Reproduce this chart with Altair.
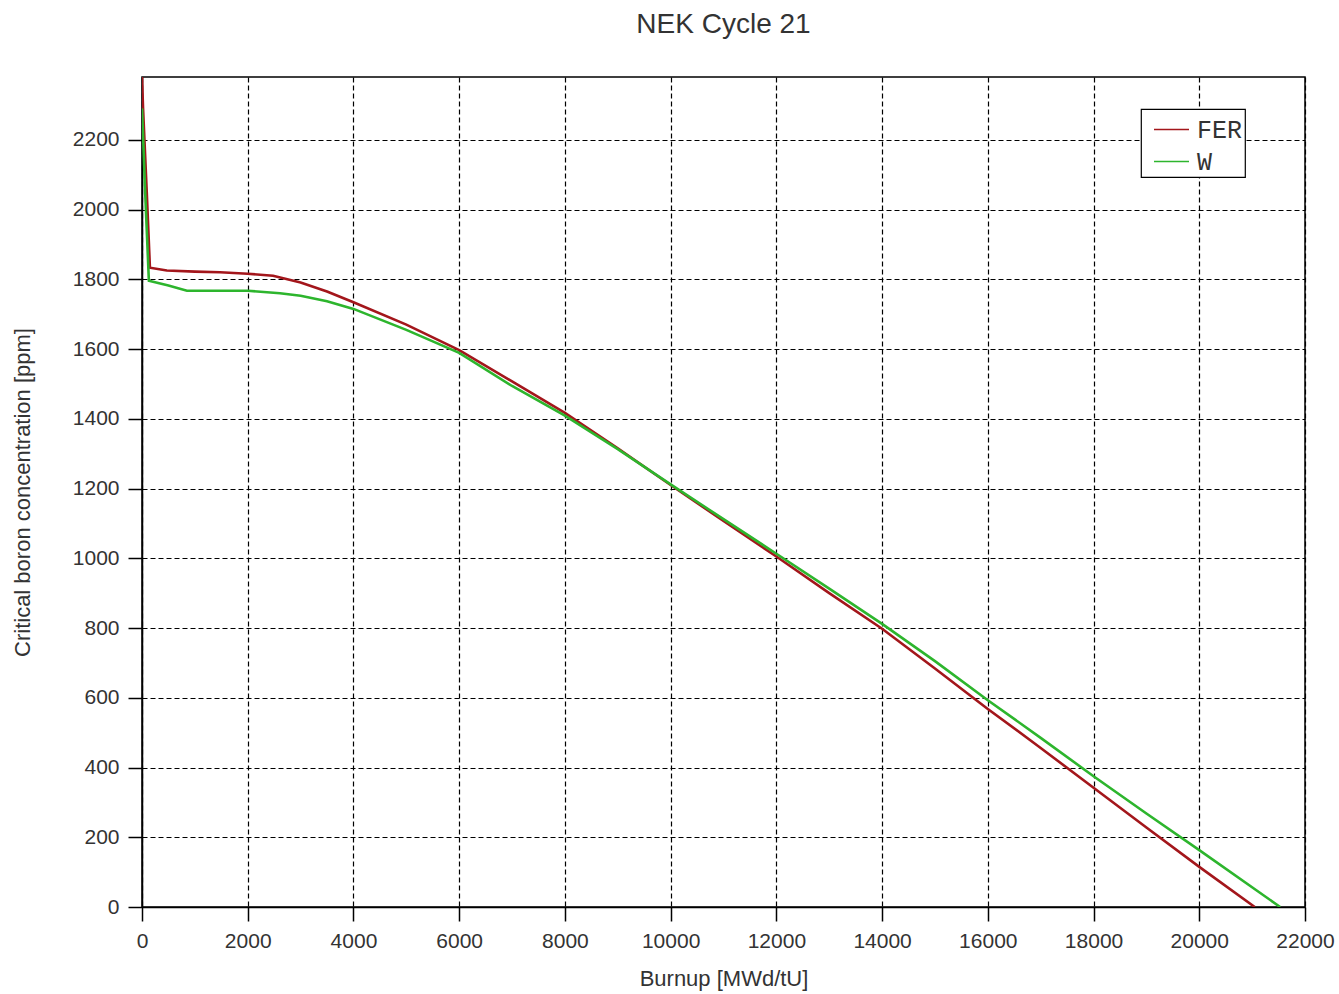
import altair as alt
import pandas as pd

# Burnup [MWd/tU] and critical boron concentration [ppm]
fer_x = [0, 20, 90, 150, 470, 1000, 1475, 2000, 2480, 3000, 3500, 4000, 5000, 6000,
         7000, 8000, 9000, 10000, 11000, 12000, 13000, 14000, 15000, 16000, 17000,
         18000, 19000, 20000, 21050]
fer_y = [2380, 2290, 2050, 1833, 1825, 1822, 1820, 1816, 1810, 1791, 1765, 1734, 1670,
         1597, 1507, 1417, 1315, 1210, 1107, 1005, 900, 798, 684, 568, 456, 342, 228,
         115, 0]

w_x = [0, 60, 130, 500, 850, 2000, 2610, 3000, 3500, 4000, 5000, 6000, 7000, 8000,
       9000, 10000, 11000, 12000, 13000, 14000, 15000, 16000, 17000, 18000, 19000,
       20000, 21530]
w_y = [2290, 2050, 1796, 1782, 1767, 1767, 1760, 1753, 1737, 1715, 1655, 1589, 1494,
       1409, 1313, 1212, 1112, 1013, 913, 812, 705, 593, 485, 375, 268, 163, 0]

series = ["FER", "W"]
colors = ["#A3161B", "#2DB52D"]
x_ticks = list(range(0, 22001, 2000))
y_ticks = list(range(0, 2201, 200))

rows = []
for i, (x, y) in enumerate(zip(fer_x, fer_y)):
    rows.append({"burnup": x, "boron": y, "series": "FER", "order": i})
for i, (x, y) in enumerate(zip(w_x, w_y)):
    rows.append({"burnup": x, "boron": y, "series": "W", "order": i})
df = pd.DataFrame(rows)

chart = (
    alt.Chart(df)
    .mark_line(strokeWidth=2.6, clip=True)
    .encode(
        x=alt.X(
            "burnup:Q",
            scale=alt.Scale(domain=[0, 22000], nice=False, zero=False),
            axis=alt.Axis(
                values=x_ticks, format="d", title="Burnup [MWd/tU]",
                titleX=581.5, titleY=71, titleBaseline="middle",
                labelFlush=False, labelOverlap=False,
            ),
        ),
        y=alt.Y(
            "boron:Q",
            scale=alt.Scale(domain=[0, 2380], nice=False),
            axis=alt.Axis(
                values=y_ticks, format="d", title="Critical boron concentration [ppm]",
                titleX=-120, titleY=415, titleAngle=270, titleBaseline="middle",
                titleAlign="center", labelFlush=False, labelOverlap=False,
            ),
        ),
        color=alt.Color(
            "series:N",
            scale=alt.Scale(domain=series, range=colors),
            legend=alt.Legend(
                title=None, orient="none", legendX=999, legendY=32,
                symbolType="stroke", symbolSize=1225, symbolStrokeWidth=1.3,
                symbolOffset=10,
                labelFont="Liberation Mono, DejaVu Sans Mono, monospace",
                labelFontSize=25, labelColor="#333", labelOffset=7,
                padding=2, rowPadding=-5, fillColor="white",
                strokeColor="black",
            ),
        ),
        order="order:Q",
    )
    .properties(
        width=1163, height=830,
        title=alt.TitleParams(
            "NEK Cycle 21", fontSize=28, font="Liberation Sans", fontWeight="normal",
            color="#333", anchor="middle", baseline="alphabetic", offset=16,
        ),
        autosize=alt.AutoSizeParams(type="none"),
        padding={"left": 142, "top": 77, "right": 34, "bottom": 87},
    )
    .configure_view(stroke="black", strokeWidth=1.5)
    .configure_axis(
        domainColor="black", domainWidth=1.5,
        tickColor="black", tickWidth=1.5, tickSize=14,
        grid=True, gridColor="black", gridDash=[5, 3], gridWidth=1.2, gridOpacity=1,
        labelFont="Liberation Sans", labelFontSize=21, labelColor="#333", labelPadding=9,
        titleFont="Liberation Sans", titleFontSize=22, titleColor="#333",
        titleFontWeight="normal",
    )
    .configure_legend(legendX=999, legendY=32, strokeWidth=1.2)
)

chart.save("out.html", embed_options={"renderer": "svg", "actions": False})
